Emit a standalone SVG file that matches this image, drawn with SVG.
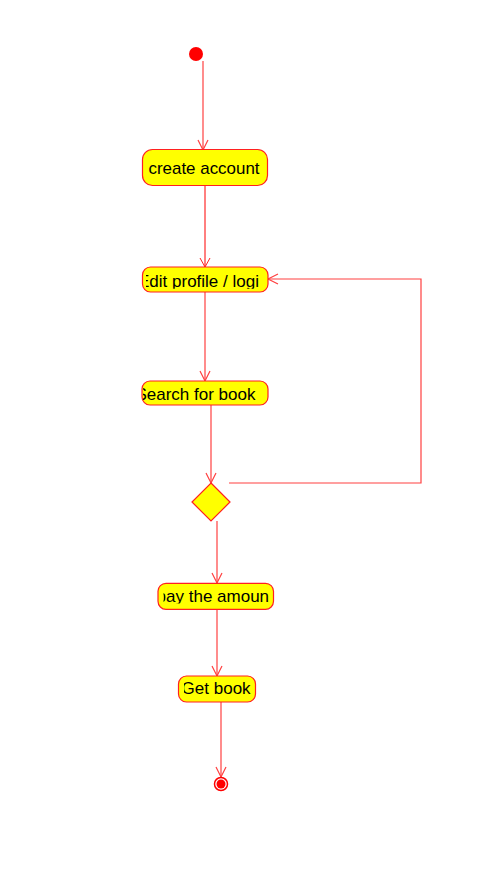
<svg xmlns="http://www.w3.org/2000/svg" width="488" height="870" viewBox="0 0 488 870">
<style>
.act{fill:#ffff00;stroke:#ff2020;stroke-width:1.2}
.lbl{font-family:"Liberation Sans",Arial,sans-serif;font-size:17px;fill:#000}
.edge{fill:none;stroke:#ff4040;stroke-width:1.2}
.head{fill:none;stroke:#ff4040;stroke-width:1.2}
</style>
<defs>
<clipPath id="c2"><rect x="146" y="267" width="118" height="21.8"/></clipPath>
<clipPath id="c3"><rect x="143" y="381" width="122" height="24"/></clipPath>
<clipPath id="c4"><rect x="163.5" y="583" width="108" height="20.5"/></clipPath>
<clipPath id="c5"><rect x="184" y="676" width="70" height="26"/></clipPath>
</defs>
<rect width="488" height="870" fill="#fff"/>
<g id="connectors">
<path class="edge" d="M203 61 V150"/><path class="head" d="M198 140 L203 150 L208 140"/>
<path d="M205 185 V267" fill="none" stroke="#ff0000" stroke-width="1"/><path d="M200 258 L205 267 L210 258" fill="none" stroke="#ff2020" stroke-width="1"/>
<path class="edge" d="M205 292 V381"/><path class="head" d="M200 371 L205 381 L210 371"/>
<path class="edge" d="M211 405 V483"/><path class="head" d="M206 473 L211 483 L216 473"/>
<path class="edge" d="M229 483 H421 V279 H268"/><path class="head" d="M278 274 L268 279 L278 284"/>
<path class="edge" d="M217 521 V583"/><path class="head" d="M212 573 L217 583 L222 573"/>
<path class="edge" d="M217 609 V676"/><path class="head" d="M212 666 L217 676 L222 666"/>
<path class="edge" d="M221 702 V777"/><path class="head" d="M216 767 L221 777 L226 767"/>
</g>
<g id="start"><circle cx="196" cy="54" r="7" fill="#ff0000"/></g>
<g id="create-account"><rect class="act" x="142.5" y="149.5" width="125" height="36" rx="10"/><text class="lbl" x="148.5" y="173.5" textLength="111" lengthAdjust="spacingAndGlyphs">create account</text></g>
<g id="edit-profile"><rect class="act" x="142.5" y="267" width="125.5" height="25" rx="8"/><text class="lbl" x="138" y="286.7" clip-path="url(#c2)">Edit profile / logi</text></g>
<g id="search"><rect class="act" x="142" y="381" width="126" height="24" rx="8"/><text class="lbl" x="135.4" y="399.7" clip-path="url(#c3)">Search for book</text></g>
<g id="decision"><polygon points="211,483 230,502 211,521 192,502" fill="#ffff00" stroke="#ff2020" stroke-width="1.2"/></g>
<g id="pay"><rect class="act" x="158" y="583.3" width="115.5" height="26" rx="8"/><text class="lbl" x="156.6" y="601.7" clip-path="url(#c4)">pay the amoun</text></g>
<g id="get-book"><rect class="act" x="178.5" y="676" width="77" height="26" rx="8"/><text class="lbl" x="181.6" y="693.7" clip-path="url(#c5)">Get book</text></g>
<g id="end"><circle cx="221" cy="784" r="6.5" fill="#fff" stroke="#ff0000" stroke-width="1.5"/><circle cx="221" cy="784" r="4.5" fill="#ff0000"/></g>
</svg>
